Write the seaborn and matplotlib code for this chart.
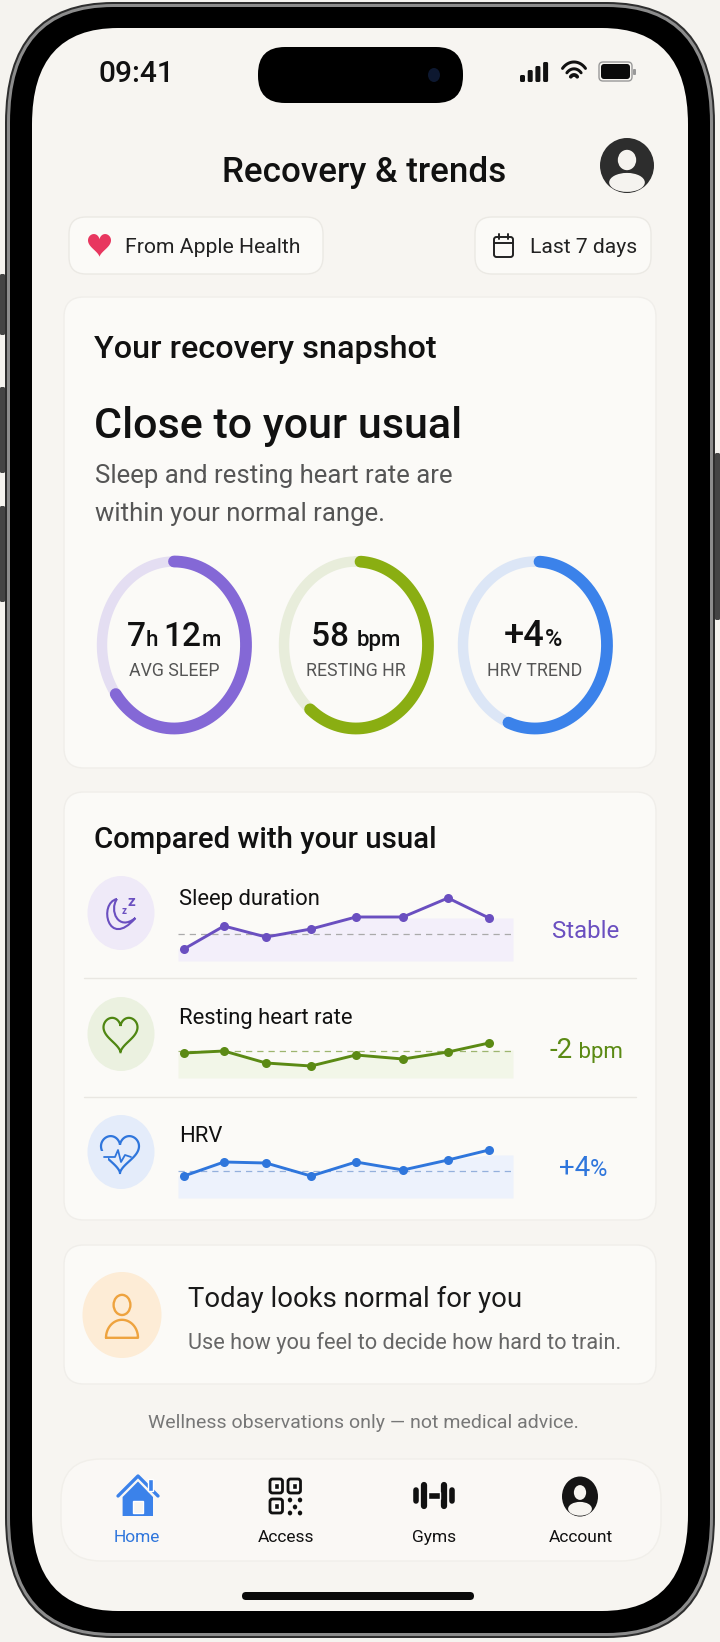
import numpy as np
import matplotlib
matplotlib.use('Agg')
import matplotlib.pyplot as plt
import seaborn as sns
from matplotlib.patches import FancyBboxPatch, Ellipse, Rectangle, Polygon, PathPatch
from matplotlib.path import Path

W, H = 720, 1642

# ring values: share of the circle that is filled
ring_names = ['AVG SLEEP', 'RESTING HR', 'HRV TREND']
ring_fracs = [0.65, 0.60, 0.55]
ring_starts = [0.0, 0.01, 0.01]

# sparkline values, offset from the usual level
day_pos = [184, 224, 266, 311, 356, 403, 448, 489]
sleep_vals = [-15, 8, -3, 5, 17, 17, 36, 16]
rhr_vals = [-2, 0, -12, -15, -4, -8, -1, 8]
hrv_vals = [-5, 9, 8, -5, 9, 1, 11, 21]

nav_labels = ['Home', 'Access', 'Gyms', 'Account']

PURPLE, GREEN, BLUE = '#6a4fc0', '#5b8a14', '#2f76dc'

sns.set_theme(style='white')
plt.rcParams['font.family'] = ['Roboto', 'DejaVu Sans']

fig = plt.figure(figsize=(W / 100, H / 100), dpi=100, facecolor='#f5f3ef')
ax = fig.add_axes([0, 0, 1, 1])
ax.set_xlim(0, W)
ax.set_ylim(H, 0)
ax.axis('off')


def rbox(x0, y0, x1, y1, r, fc, ec='none', lw=0, z=1, aspect=1.0):
    ax.add_patch(FancyBboxPatch((x0, y0), x1 - x0, y1 - y0, boxstyle=f'round,pad=0,rounding_size={r}',
                                mutation_aspect=aspect, fc=fc, ec=ec, lw=lw, zorder=z))


def oval(cx, cy, rx, ry, fc, ec='none', lw=0, z=3):
    ax.add_patch(Ellipse((cx, cy), rx * 2, ry * 2, fc=fc, ec=ec, lw=lw, zorder=z))


def label(x, y, s, size, color='#111111', ha='left', weight='normal', z=5):
    return ax.text(x, y + 3.5, s, fontsize=size, color=color, ha=ha, va='center', fontweight=weight, zorder=z)


def runs(cx, y, parts, color='#111111', weight='normal'):
    # text of mixed sizes on one baseline, centred on cx
    rend = fig.canvas.get_renderer()
    items = [ax.text(0, y, s, fontsize=size, color=color, ha='left', va='baseline', fontweight=weight, zorder=5)
             for s, size in parts]
    widths = [t.get_window_extent(rend).width for t in items]
    x = cx - sum(widths) / 2
    for t, w in zip(items, widths):
        t.set_x(x)
        x += w


def heart(cx, cy, s, sy=None, **kw):
    sy = sy or s
    t = np.linspace(0, 2 * np.pi, 120)
    x = np.sin(t) ** 3
    y = -(13 * np.cos(t) - 5 * np.cos(2 * t) - 2 * np.cos(3 * t) - np.cos(4 * t)) / 16
    ax.add_patch(Polygon(np.c_[cx + s * x, cy + sy * y], closed=True, zorder=6, **kw))


def person(cx, cy, rx, ry, color, lw):
    oval(cx, cy - ry * 0.42, rx * 0.42, ry * 0.42, 'none', color, lw, z=6)
    t = np.linspace(np.pi, 2 * np.pi, 40)
    xs = cx + rx * 0.8 * np.cos(t)
    ys = cy + ry * 0.95 + ry * 0.75 * np.sin(t)
    ax.plot(np.r_[xs, xs[0]], np.r_[ys, ys[0]], color=color, lw=lw, zorder=6)


def solid_person(cx, cy, rx, ry, dark, light):
    oval(cx, cy, rx, ry, dark, z=6)
    oval(cx, cy - ry * 0.2, rx * 0.34, ry * 0.37, light, z=7)
    oval(cx, cy + ry * 0.615, rx * 0.66, ry * 0.345, light, z=7)


# phone body
for side, y0, y1 in [(0, 274, 335), (0, 387, 473), (0, 506, 602), (1, 453, 620)]:
    x0 = 0 if side == 0 else 715
    rbox(x0, y0, x0 + 5, y1, 1.5, '#444444', z=0.5)
rbox(5, 2, 715, 1638, 108, '#2e2e2e', z=1, aspect=1.12)
rbox(7, 4, 713, 1636, 106, '#8c8c8c', z=1.1, aspect=1.12)
rbox(10, 7, 710, 1633, 103, '#000000', z=1.2, aspect=1.12)
rbox(32, 28, 688, 1611, 86, '#f7f5f1', z=1.3, aspect=1.12)

# status bar
label(98, 70, '09:41', 21.5, weight='medium')
rbox(258, 47, 463, 103, 27, '#000000', z=3)
oval(434, 75, 6, 7, '#0d1830', z=4)
for i, h in enumerate([7, 12, 16, 20]):
    rbox(520 + i * 7.7, 82 - h, 525 + i * 7.7, 82, 1.5, '#111111', z=4)
for frac, lw in [(1.0, 2.8), (0.62, 2.8), (0.28, 3.5)]:
    t = np.linspace(np.radians(-140), np.radians(-40), 30)
    ax.plot(574 + 15 * frac * np.cos(t), 80 + 18 * frac * np.sin(t), color='#111111', lw=lw / 1.3, zorder=4)
rbox(599, 62, 632, 81, 4, 'none', '#999999', 1, z=4)
rbox(601, 64, 630, 79, 3, '#0a0a0a', z=4)
rbox(633, 69, 636, 75, 1, '#999999', z=4)

# header
label(364, 169, 'Recovery & trends', 25.2, ha='center', weight='medium')
solid_person(627, 165.5, 27, 27.5, '#2d2d2d', '#f5f3ef')

# pills
for x0, x1 in [(69, 323), (475, 651)]:
    rbox(x0, 217, x1, 274, 17, '#fbfaf7', '#ebe9e4', 1, z=2)
heart(99.5, 243.5, 11.5, 12.7, fc='#e8375f', ec='none')
label(125, 244, 'From Apple Health', 15.2, color='#222222')
rbox(494, 237, 513, 257, 2.5, 'none', '#222222', 1.4, z=5)
ax.plot([494, 513], [243, 243], color='#222222', lw=1.4, zorder=5)
for x in [499, 508]:
    ax.plot([x, x], [234, 239], color='#222222', lw=1.4, zorder=5)
label(530, 244, 'Last 7 days', 15.2, color='#222222')

# cards
for y0, y1 in [(297, 768), (792, 1220), (1245, 1384)]:
    rbox(64, y0, 656, y1, 20, '#fbfaf7', '#f0eeea', 1, z=2)
rbox(61, 1459, 661, 1561, 40, '#faf8f5', '#f1efea', 1, z=2)

# snapshot card
label(94, 346, 'Your recovery snapshot', 23.3, weight='medium')
label(94, 423, 'Close to your usual', 31, weight='medium')
label(95, 473, 'Sleep and resting heart rate are', 18.5, color='#555555')
label(95, 510, 'within your normal range.', 18.5, color='#555555')

ring_x = [174, 356, 535]
ring_cols = ['#8468d6', '#8aae12', '#3b82ea']
ring_tracks = ['#e4def2', '#e8eddb', '#dce6f6']
for cx, frac, start, col, trk, name in zip(ring_x, ring_fracs, ring_starts, ring_cols, ring_tracks, ring_names):
    t = np.linspace(0, 2 * np.pi, 240)
    ax.plot(cx + 72 * np.sin(t), 645 - 83.5 * np.cos(t), color=trk, lw=7.5, zorder=3)
    t = 2 * np.pi * np.linspace(start, start + frac, 160)
    ax.plot(cx + 72 * np.sin(t), 645 - 83.5 * np.cos(t), color=col, lw=8.5, solid_capstyle='round', zorder=4)
    label(cx, 667, name, 12.8, color='#555555', ha='center')
runs(174, 646, [('7', 24), ('h ', 16), ('12', 24), ('m', 16)], weight='medium')
runs(356, 646, [('58 ', 24), ('bpm', 16)], weight='medium')
runs(533, 646, [('+4', 26), ('%', 17)], weight='medium')

# comparison card
label(94, 837, 'Compared with your usual', 21.2, weight='medium')
ax.plot([84, 636], [978, 978], color='#e9e7e2', lw=1, zorder=3)
ax.plot([84, 636], [1097, 1097], color='#e9e7e2', lw=1, zorder=3)

rows = [
    ('Sleep duration', sleep_vals, PURPLE, '#efeaf8', 896, 934, 961, 16, '#f3effa', '#aaaaaa'),
    ('Resting heart rate', rhr_vals, GREEN, '#ebf1e0', 1015, 1051, 1078, 1, '#f2f6e8', '#9db56f'),
    ('HRV', hrv_vals, BLUE, '#e4ecfa', 1133, 1171, 1198, 16, '#edf2fc', '#94b0dc'),
]
for (name, vals, col, bg, ylab, base, bottom, cap, fillc, dashc), cy in zip(rows, [913, 1034, 1152]):
    oval(121, cy, 33.5, 37, bg)
    label(179, ylab, name, 15.8)
    # inset axes with one data unit per pixel so the offsets read straight
    top = base - 48
    inset = fig.add_axes([178 / W, 1 - bottom / H, 335 / W, (bottom - top) / H])
    inset.set_xlim(178, 513)
    inset.set_ylim(base - bottom, 48)
    inset.axis('off')
    inset.patch.set_alpha(0)
    fx = np.r_[178, day_pos, 513]
    fy = np.minimum(np.r_[vals[0], vals, vals[-1]], cap)
    inset.fill_between(fx, base - bottom, fy, color=fillc, lw=0, zorder=1)
    inset.axhline(0, color=dashc, lw=0.9, ls=(0, (5, 4)), zorder=2)
    sns.lineplot(x=day_pos, y=vals, ax=inset, color=col, lw=2.1, marker='o', markersize=6.5,
                 markeredgewidth=0, errorbar=None, legend=False, zorder=3)
    inset.set_xlabel('')
    inset.set_ylabel('')

label(586, 928, 'Stable', 17.3, color=PURPLE, ha='center')
runs(586, 1058, [('-2', 20), (' bpm', 16)], color=GREEN)
runs(583, 1176, [('+4', 20), ('%', 17)], color=BLUE)

# row icons
moon = [(117, 899), (98, 903), (108, 950), (135.4, 918), (118, 932), (109, 910), (117, 899)]
codes = [Path.MOVETO] + [Path.CURVE4] * 6
ax.add_patch(PathPatch(Path(moon, codes), fc='none', ec=PURPLE, lw=1.5, zorder=6))
ax.text(131, 902, 'z', fontsize=11, color=PURPLE, fontweight='bold', ha='center', va='center', zorder=6)
ax.text(124, 911, 'z', fontsize=7, color=PURPLE, fontweight='bold', ha='center', va='center', zorder=6)
heart(120.5, 1032, 17, 19, fc='none', ec='#4f8612', lw=1.6)
heart(120, 1151.3, 19, 20.4, fc='none', ec=BLUE, lw=1.6)
ax.add_patch(Rectangle((99, 1151), 9, 9, fc='#e4ecfa', ec='none', zorder=6.5))
ax.plot([104, 115, 118, 121, 125, 131], [1157, 1157, 1150, 1162, 1155, 1157], color=BLUE, lw=1.3, zorder=7)

# today card
oval(122, 1315, 39.5, 43, '#fdecd6')
person(122, 1315, 20, 24, '#eea33f', 1.7)
label(188, 1296, 'Today looks normal for you', 19.8, color='#1a1a1a')
label(188, 1339, 'Use how you feel to decide how hard to train.', 15.7, color='#666666')
label(363, 1420, 'Wellness observations only \u2014 not medical advice.', 14, color='#777777', ha='center')

# bottom nav
nav_x = [137, 286, 434, 581]
for x, s in zip(nav_x, nav_labels):
    label(x, 1534, s, 12.5, color=BLUE if s == 'Home' else '#111111', ha='center')
nav_blue = '#3b82ea'
ax.add_patch(Polygon([(122.6, 1497), (138, 1481.5), (153, 1497), (153, 1516), (122.6, 1516)], closed=True, fc=nav_blue, ec='none', zorder=5))
ax.plot([118, 138, 158], [1496, 1476, 1496], color=nav_blue, lw=2.4, zorder=5)
ax.add_patch(Rectangle((148, 1479), 5, 12, fc=nav_blue, zorder=5))
ax.add_patch(Rectangle((133, 1501), 9.5, 12.5, fc='#f7f5f1', zorder=6))
for qx, qy in [(270, 1479), (288, 1479), (270, 1499)]:
    rbox(qx, qy, qx + 12.5, qy + 14, 2.5, 'none', '#111111', 2, z=5)
    ax.add_patch(Rectangle((qx + 3.5, qy + 4), 5.5, 6, fc='#111111', zorder=5))
for qx, qy in [(290, 1500), (300, 1500), (295, 1507), (290, 1513), (300, 1513)]:
    oval(qx, qy, 2.2, 2.4, '#111111', z=5)
for dx, hh, w in [(-18, 8.5, 4), (-10, 13.5, 4.5), (10, 13.5, 4.5), (18, 8.5, 4)]:
    ax.plot([434 + dx, 434 + dx], [1495.5 - hh + 2.7, 1495.5 + hh - 2.7], color='#111111', lw=w, solid_capstyle='round', zorder=5)
ax.add_patch(Rectangle((428, 1492), 12, 7, fc='#111111', zorder=5))
solid_person(580, 1496.5, 18, 20, '#151515', '#f7f5f1')
rbox(242, 1592, 474, 1600, 4, '#0a0a0a', z=4)

fig.savefig('out.png', dpi=100, facecolor=fig.get_facecolor())
